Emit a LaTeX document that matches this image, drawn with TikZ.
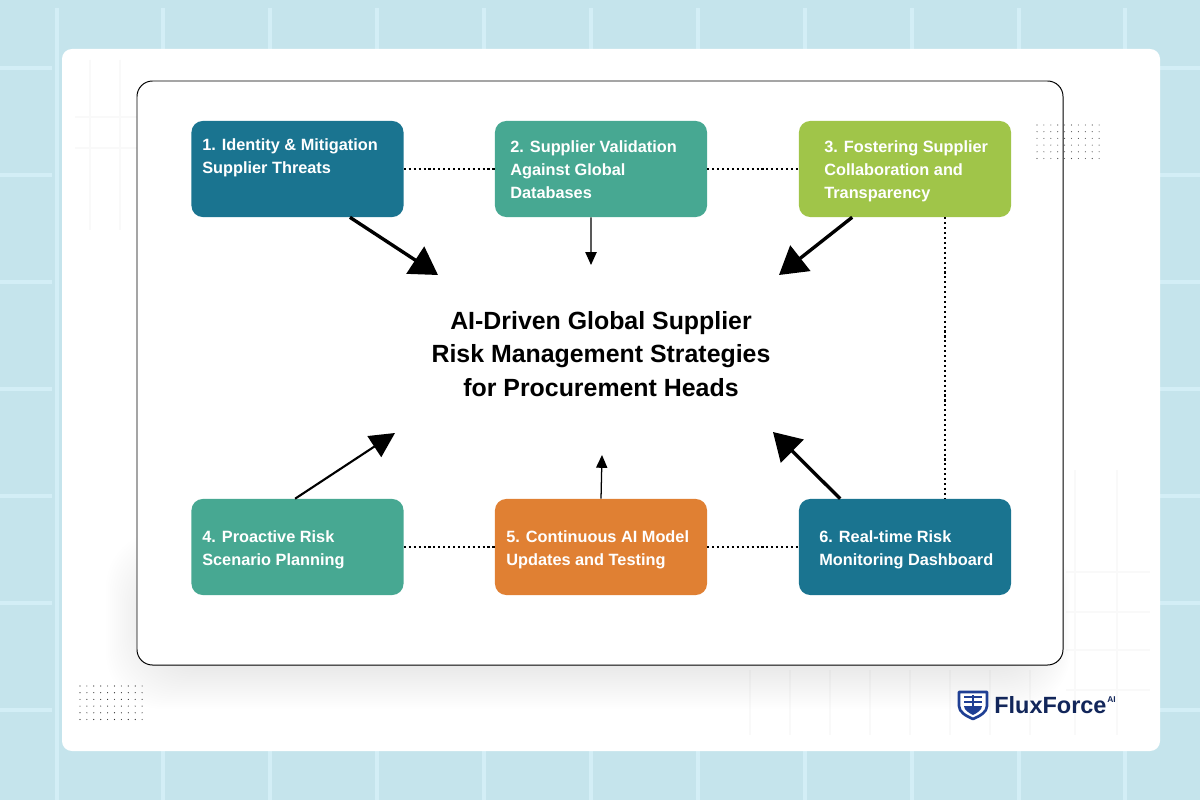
\documentclass[tikz,border=0pt]{standalone}
\usepackage{xcolor}
\usepackage{fontspec}
\setmainfont{Liberation Sans}
\usetikzlibrary{arrows.meta}

\definecolor{SkyBack}{HTML}{C5E4EC}
\definecolor{SkyLine}{HTML}{D3EEF6}
\definecolor{DeepTeal}{HTML}{1A7490}
\definecolor{SeaGreen}{HTML}{47A892}
\definecolor{LimeGreen}{HTML}{A0C549}
\definecolor{BurntOrange}{HTML}{E08033}
\definecolor{LogoNavy}{HTML}{12265A}
\definecolor{LogoBlue}{HTML}{1F3F94}

\tikzset{
    riskbox/.style={rounded corners=8pt, minimum width=5.3cm, minimum height=2.4cm, inner sep=0pt},
    boxtext/.style={anchor=west, align=left, inner sep=0pt, text=white, font=\fontsize{11.6}{16.3}\selectfont\bfseries},
    dotlink/.style={line width=1.5pt, dotted},
    bigarrow/.style={line width=2.4pt, -{Triangle[length=0.68cm, width=0.8cm]}},
    midarrow/.style={line width=1.5pt, -{Triangle[length=0.62cm, width=0.62cm]}},
    smallarrow/.style={line width=0.9pt, -{Triangle[length=0.32cm, width=0.28cm]}},
    faintline/.style={black!2.5, line width=1.2pt},
}

\begin{document}
\begin{tikzpicture}[x=0.025cm, y=-0.025cm]
    \useasboundingbox (0,0) rectangle (1200,800);
    \fill[SkyBack] (0,0) rectangle (1200,800);
    % tile lines
    \foreach \xpos in {57, 163, 270, 377, 484, 591, 698, 805, 912, 1019, 1125}{
        \draw[SkyLine, line width=3pt] (\xpos,8) -- (\xpos,800);
    }
    \foreach \ypos in {68, 175, ..., 800}{
        \draw[SkyLine, line width=3pt] (0,\ypos) -- (52,\ypos);
        \draw[SkyLine, line width=3pt] (1160,\ypos) -- (1200,\ypos);
    }
    \fill[white, rounded corners=7pt] (62,49) rectangle (1160,751);
    % faint tiles on the card
    \foreach \xpos in {90, 120}{
        \draw[faintline] (\xpos,60) -- (\xpos,230);
    }
    \foreach \ypos in {117, 148}{
        \draw[faintline] (75,\ypos) -- (137,\ypos);
    }
    \foreach \xpos in {1075, 1117}{
        \draw[faintline] (\xpos,470) -- (\xpos,735);
    }
    \foreach \xpos in {750, 790, 830, 870, 910, 950, 990, 1030}{
        \draw[faintline] (\xpos,670) -- (\xpos,735);
    }
    \foreach \ypos in {572, 612, 650, 690}{
        \draw[faintline] (1066,\ypos) -- (1150,\ypos);
    }
    % soft shadow under the panel
    \foreach \spread in {1, 3, ..., 59}{
        \fill[black, opacity=0.005, rounded corners=40pt]
            (165-\spread,590-\spread) rectangle (1035+0.6*\spread,650+\spread);
    }
    \foreach \xpos in {0, 1, ..., 9}{
        \foreach \ypos in {0, 1, ..., 5}{
            \fill[black!85] (80+\xpos*6.9,686+\ypos*6.7) circle (0.4pt);
        }
    }
    \draw[black, fill=white, line width=0.7pt, rounded corners=11pt] (137,81) rectangle (1063,665);
    \foreach \xpos in {0, 1, ..., 9}{
        \foreach \ypos in {0, 1, ..., 5}{
            \fill[black!70] (1037+\xpos*6.9,125+\ypos*6.7) circle (0.4pt);
        }
    }

    \node[riskbox, fill=DeepTeal] (b1) at (297.5,169) {};
    \node[riskbox, fill=SeaGreen] (b2) at (601,169) {};
    \node[riskbox, fill=LimeGreen] (b3) at (905,169) {};
    \node[riskbox, fill=SeaGreen] (b4) at (297.5,547) {};
    \node[riskbox, fill=BurntOrange] (b5) at (601,547) {};
    \node[riskbox, fill=DeepTeal] (b6) at (905,547) {};

    \node[boxtext] (t1) at (202,157.5) {1. Identity \& Mitigation\\Supplier Threats};
    \node[boxtext] (t2) at (510,170) {2. Supplier Validation\\Against Global\\Databases};
    \node[boxtext] (t3) at (824,171.5) {3. Fostering Supplier\\Collaboration and\\Transparency};
    \node[boxtext] (t4) at (202,550) {4. Proactive Risk\\Scenario Planning};
    \node[boxtext] (t5) at (506,550) {5. Continuous AI Model\\Updates and Testing};
    \node[boxtext] (t6) at (819,550) {6. Real-time Risk\\Monitoring Dashboard};

    \node[align=center, font=\fontsize{17.7}{24}\selectfont\bfseries] (title) at (601,354)
        {AI-Driven Global Supplier\\Risk Management Strategies\\for Procurement Heads};

    \draw[dotlink] (b1) -- (b2);
    \draw[dotlink] (b2) -- (b3);
    \draw[dotlink] (b4) -- (b5);
    \draw[dotlink] (b5) -- (b6);
    \draw[dotlink] ([xshift=1cm]b3.south) -- ([xshift=1cm]b6.north);

    \coordinate (e1) at (438,275);
    \coordinate (e2) at (591,265);
    \coordinate (e3) at (779,275);
    \coordinate (e4) at (395,433);
    \coordinate (e5) at (602,455);
    \coordinate (e6) at (773,432);
    \draw[bigarrow] ([xshift=1.31cm]b1.south) -- (e1);
    \draw[smallarrow] ([xshift=-0.25cm]b2.south) -- (e2);
    \draw[bigarrow] ([xshift=-1.32cm]b3.south) -- (e3);
    \draw[midarrow] ([xshift=-0.06cm]b4.north) -- (e4);
    \draw[smallarrow] (b5.north) -- (e5);
    \draw[bigarrow] ([xshift=-1.62cm]b6.north) -- (e6);

    % logo
    \draw[LogoBlue, line width=1.9pt, fill=white, line join=round]
        (959,692) -- (987,692) -- (987,706) .. controls (987,712) and (980,716) .. (973,719)
        .. controls (966,716) and (959,712) .. (959,706) -- cycle;
    \fill[LogoBlue] (964,706) -- (982,706) .. controls (982,710) and (977,713) .. (973,715)
        .. controls (969,713) and (964,710) .. (964,706) -- cycle;
    \draw[LogoBlue, line width=1pt] (964,697) -- (982,697) (964,702) -- (982,702) (973,695) -- (973,706);
    \node[anchor=west, inner sep=0pt, text=LogoNavy, font=\fontsize{16.7}{18}\selectfont\bfseries] (logo) at (994,705) {FluxForce};
    \node[anchor=west, inner sep=0pt, text=LogoNavy, font=\fontsize{6}{7}\selectfont\bfseries] (logoai) at (1107,700) {AI};
\end{tikzpicture}
\end{document}
